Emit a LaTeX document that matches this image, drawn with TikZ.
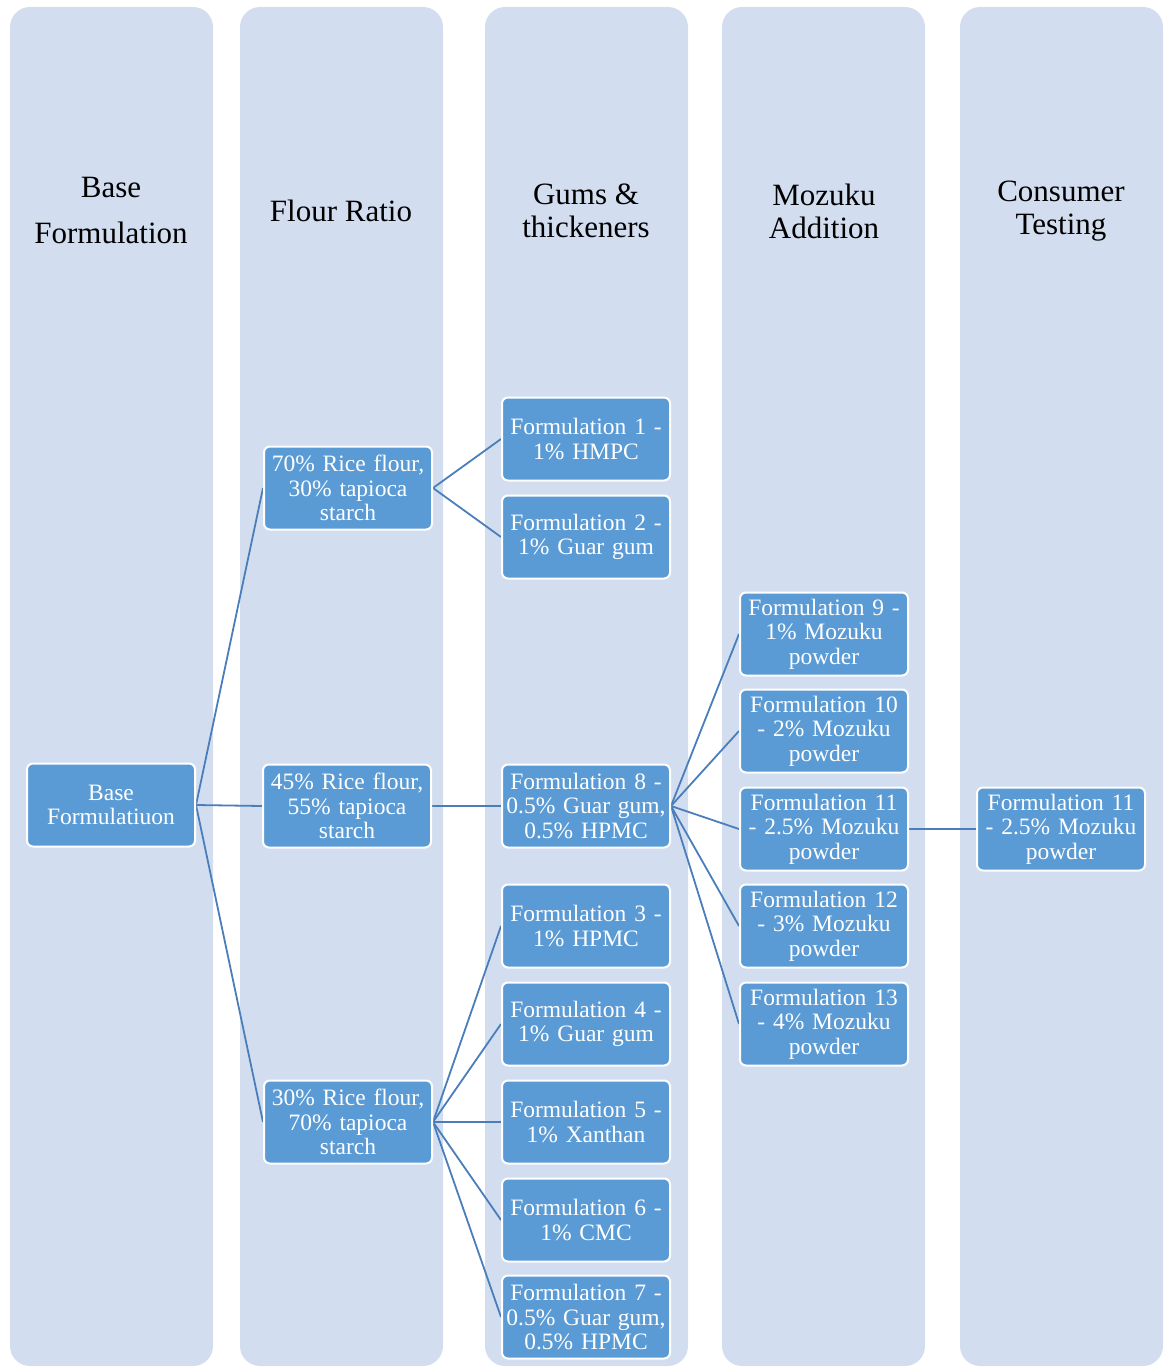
\documentclass[tikz,border=0pt]{standalone}
\usepackage{fontspec}
\setmainfont{Liberation Serif}
\usetikzlibrary{backgrounds}
\definecolor{colfill}{HTML}{D2DEEF}
\definecolor{boxfill}{HTML}{5B9BD5}
\definecolor{linec}{HTML}{4A7EBB}
\begin{document}
\begin{tikzpicture}[x=1pt,y=-1pt,
 column/.style={fill=colfill, rounded corners=20pt},
 box/.style={draw=white, line width=2pt, fill=boxfill, rounded corners=6pt, minimum width=168pt, minimum height=83pt, text width=166pt, align=center, inner sep=0pt, text=white, font=\fontsize{23.5}{24.5}\selectfont},
 hdr/.style={align=center, font=\fontsize{31}{33}\selectfont},
 link/.style={draw=linec, line width=1.8pt}]
\useasboundingbox (0,0) rectangle (1167,1367);
% headers
\node[hdr, font=\fontsize{31}{46}\selectfont] (h1) at (111,211) {Base\\Formulation};
\node[hdr] (h2) at (341,211) {Flour Ratio};
\node[hdr] (h3) at (586,211) {Gums \&\\thickeners};
\node[hdr] (h4) at (824,211) {Mozuku\\Addition};
\node[hdr] (h5) at (1061,211) {Consumer\\Testing};
% nodes
\node[box] (base) at (111,805) {Base\\Formulatiuon};
\node[box] (r70) at (348,488) {70\% Rice flour,\\30\% tapioca\\starch};
\node[box] (r45) at (347,806) {45\% Rice flour,\\55\% tapioca\\starch};
\node[box] (r30) at (348,1122) {30\% Rice flour,\\70\% tapioca\\starch};
\node[box] (f1) at (586,439) {Formulation 1 -\\1\% HMPC};
\node[box] (f2) at (586,537) {Formulation 2 -\\1\% Guar gum};
\node[box] (f8) at (586,806) {Formulation 8 -\\0.5\% Guar gum,\\0.5\% HPMC};
\node[box] (f3) at (586,926) {Formulation 3 -\\1\% HPMC};
\node[box] (f4) at (586,1024) {Formulation 4 -\\1\% Guar gum};
\node[box] (f5) at (586,1122) {Formulation 5 -\\1\% Xanthan};
\node[box] (f6) at (586,1220) {Formulation 6 -\\1\% CMC};
\node[box] (f7) at (586,1317) {Formulation 7 -\\0.5\% Guar gum,\\0.5\% HPMC};
\node[box] (f9) at (824,634) {Formulation 9 -\\1\% Mozuku\\powder};
\node[box] (f10) at (824,731) {Formulation 10\\- 2\% Mozuku\\powder};
\node[box] (f11) at (824,829) {Formulation 11\\- 2.5\% Mozuku\\powder};
\node[box] (f12) at (824,926) {Formulation 12\\- 3\% Mozuku\\powder};
\node[box] (f13) at (824,1024) {Formulation 13\\- 4\% Mozuku\\powder};
\node[box] (c11) at (1061,829) {Formulation 11\\- 2.5\% Mozuku\\powder};
% connectors and columns behind
\begin{scope}[on background layer]
\fill[column] (10,7) rectangle (213,1366);
\fill[column] (240,7) rectangle (443,1366);
\fill[column] (485,7) rectangle (688,1366);
\fill[column] (722,7) rectangle (925,1366);
\fill[column] (960,7) rectangle (1163,1366);
\foreach \a/\b in {base/r70,base/r45,base/r30,r70/f1,r70/f2,r45/f8,r30/f3,r30/f4,r30/f5,r30/f6,r30/f7,f8/f9,f8/f10,f8/f11,f8/f12,f8/f13,f11/c11}
 \draw[link] (\a.east) -- (\b.west);
\end{scope}
\end{tikzpicture}
\end{document}
